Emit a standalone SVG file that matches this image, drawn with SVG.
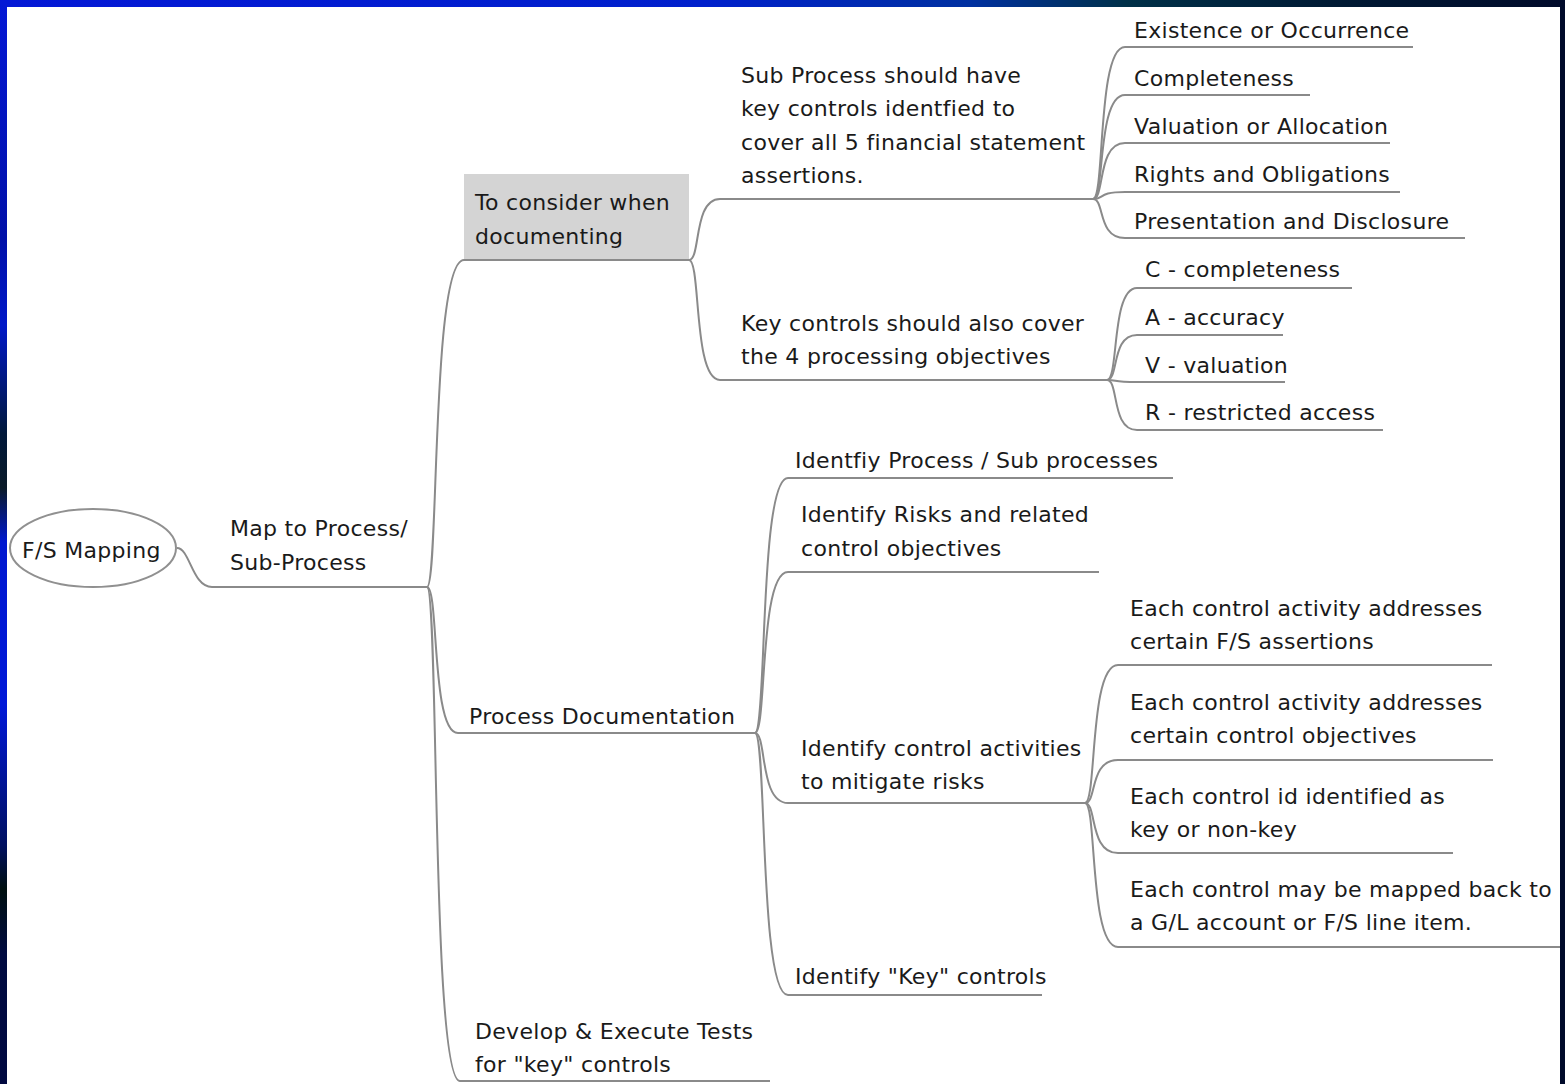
<svg xmlns="http://www.w3.org/2000/svg" width="1565" height="1084" viewBox="0 0 1565 1084">
<defs>
<linearGradient id="gTop" x1="0" y1="0" x2="1" y2="0">
<stop offset="0" stop-color="#0418d6"/>
<stop offset="0.45" stop-color="#0020cc"/>
<stop offset="0.62" stop-color="#0030a0"/>
<stop offset="0.72" stop-color="#003048"/>
<stop offset="0.85" stop-color="#001a34"/>
<stop offset="1" stop-color="#000a2a"/>
</linearGradient>
<linearGradient id="gLeft" x1="0" y1="0" x2="0" y2="1">
<stop offset="0" stop-color="#0418d6"/>
<stop offset="0.22" stop-color="#0010a8"/>
<stop offset="0.3" stop-color="#0018c8"/>
<stop offset="0.4" stop-color="#00183a"/>
<stop offset="0.45" stop-color="#0a1a28"/>
<stop offset="0.5" stop-color="#0018d0"/>
<stop offset="0.65" stop-color="#0018d8"/>
<stop offset="0.78" stop-color="#001060"/>
<stop offset="0.82" stop-color="#001010"/>
<stop offset="0.88" stop-color="#000a40"/>
<stop offset="1" stop-color="#000840"/>
</linearGradient>
<style>
.t{font-family:"DejaVu Sans","Liberation Sans",sans-serif;font-size:22px;fill:#1a1a1a;letter-spacing:0.3px}
.c{fill:none;stroke:#8a8a8a;stroke-width:2}
</style>
</defs>
<rect x="0" y="0" width="1565" height="1084" fill="#000a2a"/>
<rect x="0" y="0" width="1565" height="8" fill="url(#gTop)"/>
<rect x="0" y="0" width="8" height="1084" fill="url(#gLeft)"/>
<rect x="7" y="7" width="1553" height="1077" fill="#ffffff"/>

<g id="n-box-bg">
<rect x="464" y="174" width="225" height="86" fill="#d4d4d4"/>
</g>

<g id="connectors">
<path class="c" d="M177 548 C190 548 192 587 212 587 H427"/>
<path class="c" d="M427 587 C439 587 431 260 464 260 H689"/>
<path class="c" d="M427 587 C439 587 431 733 458 733 H755"/>
<path class="c" d="M427 587 C439 587 431 1081 460 1081 H770"/>
<path class="c" d="M689 260 C701 260 693 199 720 199 H1093"/>
<path class="c" d="M689 260 C701 260 693 380 720 380 H1107"/>
<path class="c" d="M1093 199 C1105 199 1097 47 1125 47 H1413"/>
<path class="c" d="M1093 199 C1105 199 1097 95 1125 95 H1310"/>
<path class="c" d="M1093 199 C1105 199 1097 143 1125 143 H1390"/>
<path class="c" d="M1093 199 C1105 199 1097 192 1125 192 H1400"/>
<path class="c" d="M1093 199 C1105 199 1097 238 1125 238 H1465"/>
<path class="c" d="M1107 380 C1119 380 1111 288 1137 288 H1352"/>
<path class="c" d="M1107 380 C1119 380 1111 335 1137 335 H1283"/>
<path class="c" d="M1107 380 C1119 380 1111 382 1137 382 H1285"/>
<path class="c" d="M1107 380 C1119 380 1111 430 1137 430 H1383"/>
<path class="c" d="M755 733 C767 733 759 478 788 478 H1173"/>
<path class="c" d="M755 733 C767 733 759 572 788 572 H1099"/>
<path class="c" d="M755 733 C767 733 759 803 788 803 H1085"/>
<path class="c" d="M755 733 C767 733 759 995 788 995 H1042"/>
<path class="c" d="M1085 803 C1097 803 1089 665 1118 665 H1492"/>
<path class="c" d="M1085 803 C1097 803 1089 760 1118 760 H1493"/>
<path class="c" d="M1085 803 C1097 803 1089 853 1118 853 H1453"/>
<path class="c" d="M1085 803 C1097 803 1089 947 1118 947 H1560"/>
</g>

<g id="n-root">
<ellipse cx="93" cy="548" rx="83" ry="39" fill="#ffffff" stroke="#909090" stroke-width="2"/>
<text class="t" x="22" y="558">F/S Mapping</text>
</g>
<g id="n-map">
<text class="t" x="230" y="536">Map to Process/</text>
<text class="t" x="230" y="570">Sub-Process</text>
</g>
<g id="n-consider">
<text class="t" x="475" y="210">To consider when</text>
<text class="t" x="475" y="244">documenting</text>
</g>
<g id="n-subprocess">
<text class="t" x="741" y="83">Sub Process should have</text>
<text class="t" x="741" y="116">key controls identfied to</text>
<text class="t" x="741" y="150">cover all 5 financial statement</text>
<text class="t" x="741" y="183">assertions.</text>
</g>
<g id="n-existence"><text class="t" x="1134" y="38">Existence or Occurrence</text></g>
<g id="n-completeness"><text class="t" x="1134" y="86">Completeness</text></g>
<g id="n-valuation"><text class="t" x="1134" y="134">Valuation or Allocation</text></g>
<g id="n-rights"><text class="t" x="1134" y="182">Rights and Obligations</text></g>
<g id="n-presentation"><text class="t" x="1134" y="229">Presentation and Disclosure</text></g>
<g id="n-keycontrols">
<text class="t" x="741" y="331">Key controls should also cover</text>
<text class="t" x="741" y="364">the 4 processing objectives</text>
</g>
<g id="n-c"><text class="t" x="1145" y="277">C - completeness</text></g>
<g id="n-a"><text class="t" x="1145" y="325">A - accuracy</text></g>
<g id="n-v"><text class="t" x="1145" y="373">V - valuation</text></g>
<g id="n-r"><text class="t" x="1145" y="420">R - restricted access</text></g>
<g id="n-procdoc"><text class="t" x="469" y="724">Process Documentation</text></g>
<g id="n-identproc"><text class="t" x="795" y="468">Identfiy Process / Sub processes</text></g>
<g id="n-identrisks">
<text class="t" x="801" y="522">Identify Risks and related</text>
<text class="t" x="801" y="556">control objectives</text>
</g>
<g id="n-identctrl">
<text class="t" x="801" y="756">Identify control activities</text>
<text class="t" x="801" y="789">to mitigate risks</text>
</g>
<g id="n-each1">
<text class="t" x="1130" y="616">Each control activity addresses</text>
<text class="t" x="1130" y="649">certain F/S assertions</text>
</g>
<g id="n-each2">
<text class="t" x="1130" y="710">Each control activity addresses</text>
<text class="t" x="1130" y="743">certain control objectives</text>
</g>
<g id="n-each3">
<text class="t" x="1130" y="804">Each control id identified as</text>
<text class="t" x="1130" y="837">key or non-key</text>
</g>
<g id="n-each4">
<text class="t" x="1130" y="897">Each control may be mapped back to</text>
<text class="t" x="1130" y="930">a G/L account or F/S line item.</text>
</g>
<g id="n-identkey"><text class="t" x="795" y="984">Identify "Key" controls</text></g>
<g id="n-develop">
<text class="t" x="475" y="1039">Develop &amp; Execute Tests</text>
<text class="t" x="475" y="1072">for "key" controls</text>
</g>
</svg>
